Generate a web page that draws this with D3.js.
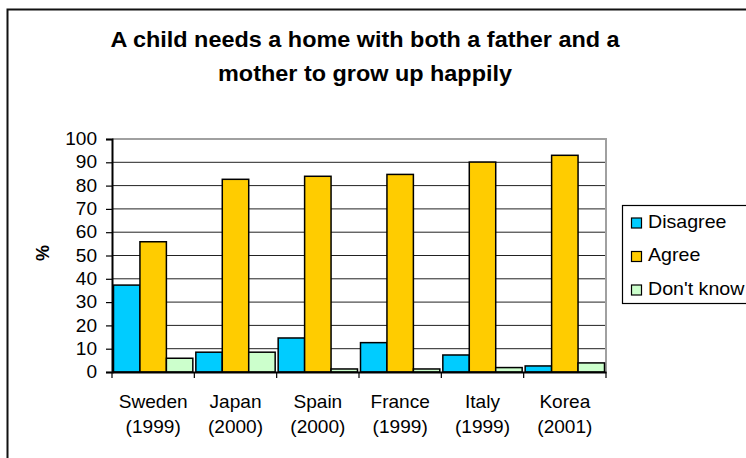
<!DOCTYPE html>
<html>
<head>
<meta charset="utf-8">
<script src="https://cdn.jsdelivr.net/npm/d3@7/dist/d3.min.js"></script>
<style>
  html, body { margin: 0; padding: 0; background: #fff; }
  svg { display: block; }
  text { font-family: "Liberation Sans", Arial, sans-serif; fill: #000; }
</style>
</head>
<body>
<svg id="chart" width="746" height="458"></svg>
<script>
const titleLines = ["A child needs a home with both a father and a", "mother to grow up happily"];
const categories = ["Sweden", "Japan", "Spain", "France", "Italy", "Korea"];
const years = ["(1999)", "(2000)", "(2000)", "(1999)", "(1999)", "(2001)"];
const seriesNames = ["Disagree", "Agree", "Don't know"];
const disagree = [37.3, 8.5, 14.6, 12.6, 7.3, 2.6];
const agree = [55.9, 82.7, 84.0, 84.8, 90.1, 93.0];
const dontKnow = [5.9, 8.5, 1.3, 1.3, 1.9, 3.9];
const colors = ["#00CCFF", "#FFCC00", "#CCFFCC"];
const yTicks = [0, 10, 20, 30, 40, 50, 60, 70, 80, 90, 100];
const yLabel = "%";

const seriesValues = [disagree, agree, dontKnow];
const SX = 1.09; // horizontal stretch of the reference's text

const svg = d3.select("#chart");

// outer chart border
svg.append("rect").attr("x", 7.5).attr("y", 9.5).attr("width", 800).attr("height", 500)
  .attr("fill", "#fff").attr("stroke", "#111").attr("stroke-width", 2);

const plot = { left: 112, right: 606, top: 139, bottom: 372 };
const x = d3.scaleBand().domain(categories).range([plot.left, plot.right]).padding(0);
const bw = x.bandwidth();
const x1 = d3.scaleBand().domain(seriesNames).range([1.5, bw - 1.5]).padding(0);
const y = d3.scaleLinear().domain([0, 100]).range([plot.bottom, plot.top]);

// title
const title = svg.append("g");
titleLines.forEach((t, i) => {
  title.append("text")
    .attr("transform", `translate(365,${47 + i * 34}) scale(${SX},1)`)
    .attr("text-anchor", "middle")
    .style("font-size", "21.5px").style("font-weight", "bold")
    .text(t);
});

// gridlines
svg.append("g").selectAll("line").data(yTicks.filter(v => v > 0 && v < 100)).join("line")
  .attr("x1", plot.left).attr("x2", plot.right)
  .attr("y1", d => y(d)).attr("y2", d => y(d))
  .attr("stroke", "#222").attr("stroke-width", 1);

// plot border (top and right, gray)
svg.append("path")
  .attr("d", `M${plot.left},${y(100)}H${plot.right}V${plot.bottom}`)
  .attr("fill", "none").attr("stroke", "#a0a0a0").attr("stroke-width", 2);

// bars
const groups = svg.append("g").selectAll("g").data(categories).join("g")
  .attr("transform", d => `translate(${x(d)},0)`);
groups.selectAll("rect")
  .data((c, ci) => seriesNames.map((s, si) => ({ s, si, v: seriesValues[si][ci] })))
  .join("rect")
  .attr("x", d => x1(d.s))
  .attr("width", x1.bandwidth())
  .attr("y", d => y(d.v))
  .attr("height", d => y(0) - y(d.v))
  .attr("fill", d => colors[d.si])
  .attr("stroke", "#000").attr("stroke-width", 1.5);

// y axis
const yAxis = svg.append("g").attr("transform", `translate(${plot.left},0)`)
  .call(d3.axisLeft(y).tickValues(yTicks).tickSize(6).tickPadding(9).tickFormat(d3.format("d")));
yAxis.select(".domain").attr("stroke", "#000").attr("stroke-width", 2);
yAxis.selectAll(".tick line").attr("stroke", "#000").attr("stroke-width", 1.2);
yAxis.selectAll(".tick text")
  .attr("font-family", null).attr("font-size", null)
  .style("font-size", "17.5px").attr("fill", "#000")
  .attr("transform", `translate(-15,0) scale(${SX},1) translate(15,0)`)
  .attr("x", -15);

// x axis
const xAxis = svg.append("g").attr("transform", `translate(0,${plot.bottom})`)
  .call(d3.axisBottom(x).tickSize(0).tickFormat(""));
xAxis.select(".domain").attr("stroke", "#000").attr("stroke-width", 2);
xAxis.selectAll(".tick").remove();
const boundaries = categories.map(c => x(c)).concat([plot.right]);
xAxis.selectAll("line.bound").data(boundaries).join("line").attr("class", "bound")
  .attr("x1", d => d).attr("x2", d => d).attr("y1", 0).attr("y2", 6)
  .attr("stroke", "#000").attr("stroke-width", 1.2);
categories.forEach((c, i) => {
  const cx = x(c) + bw / 2;
  [c, years[i]].forEach((t, j) => {
    xAxis.append("text")
      .attr("transform", `translate(${cx},${36 + j * 25}) scale(${SX},1)`)
      .attr("text-anchor", "middle")
      .style("font-size", "17.5px")
      .text(t);
  });
});

// y axis label
svg.append("text")
  .attr("transform", "translate(49,253) rotate(-90)")
  .attr("text-anchor", "middle")
  .style("font-size", "18px").style("font-weight", "bold")
  .text(yLabel);

// legend
const legend = svg.append("g");
legend.append("rect").attr("x", 622.5).attr("y", 205.5).attr("width", 160).attr("height", 98)
  .attr("fill", "#fff").attr("stroke", "#000").attr("stroke-width", 1.2);
seriesNames.forEach((s, i) => {
  const by = 227.5 + i * 33.5;
  legend.append("rect").attr("x", 631.5).attr("y", by - 9.5).attr("width", 10).attr("height", 10)
    .attr("fill", colors[i]).attr("stroke", "#000").attr("stroke-width", 1.2);
  legend.append("text")
    .attr("transform", `translate(648,${by}) scale(${SX},1)`)
    .style("font-size", "18px")
    .text(s);
});
</script>
</body>
</html>
